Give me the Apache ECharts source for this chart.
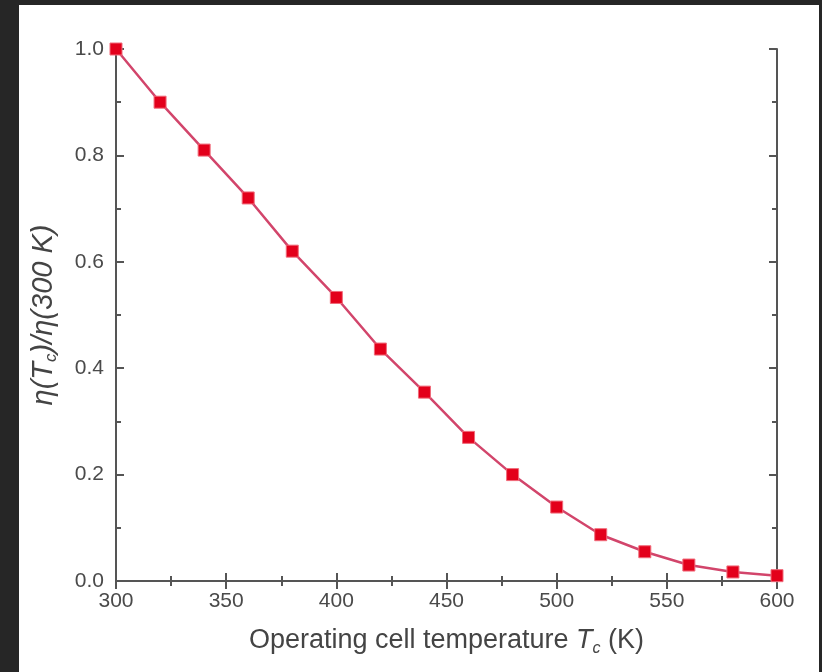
<!DOCTYPE html>
<html>
<head>
<meta charset="utf-8">
<script src="https://cdn.jsdelivr.net/npm/echarts@6/dist/echarts.min.js"></script>
<style>
  html, body { margin: 0; padding: 0; background: #262626; }
  #chart { position: absolute; left: 19px; top: 5px; width: 800px; height: 667px; background: #fff; }
</style>
</head>
<body>
<div id="chart"></div>
<script>
// operating cell temperature (K) and efficiency ratio eta(Tc)/eta(300 K)
var temps = [300, 320, 340, 360, 380, 400, 420, 440, 460, 480, 500, 520, 540, 560, 580, 600];
var ratio = [1.0, 0.90, 0.81, 0.72, 0.62, 0.533, 0.436, 0.355, 0.27, 0.20, 0.139, 0.087, 0.055, 0.030, 0.017, 0.010];

var axisColor = '#555';
var labelStyle = { fontSize: 21, color: '#4a4a4a', fontFamily: 'Liberation Sans' };

var points = [];
for (var i = 0; i < temps.length; i++) {
  points.push([temps[i], ratio[i]]);
}

var chart = echarts.init(document.getElementById('chart'));

function frameAxis(extra) {
  return Object.assign({
    axisLine: { show: true, lineStyle: { color: axisColor, width: 2 } },
    axisTick: { show: true, inside: true, length: 8, lineStyle: { color: axisColor, width: 2 } },
    minorTick: { show: true, splitNumber: 2, length: 5, lineStyle: { color: axisColor, width: 2 } },
    splitLine: { show: false }
  }, extra);
}

var option = {
  animation: false,
  grid: { left: 97, top: 44, width: 661, height: 532 },
  xAxis: [
    frameAxis({
      type: 'value', min: 300, max: 600, interval: 50,
      axisLabel: Object.assign({ margin: 10 }, labelStyle),
      name: '{n|Operating cell temperature }{i|T}{s|c}{n| (K)}',
      nameLocation: 'middle',
      nameGap: 43,
      nameTextStyle: {
        rich: {
          n: { fontSize: 27, color: '#444', fontFamily: 'Liberation Sans' },
          i: { fontSize: 27, color: '#444', fontFamily: 'Liberation Sans', fontStyle: 'italic' },
          s: { fontSize: 16, color: '#444', fontFamily: 'Liberation Sans', fontStyle: 'italic', padding: [17, 0, 0, 0] }
        }
      }
    }),
    frameAxis({
      type: 'value', min: 300, max: 600, interval: 50, position: 'top',
      axisLabel: { show: false }
    })
  ],
  yAxis: [
    frameAxis({
      type: 'value', min: 0, max: 1, interval: 0.2,
      axisLabel: Object.assign({ margin: 12, formatter: function (v) { return v.toFixed(1); } }, labelStyle),
      name: '{i|η(T}{s|c}{i|)/η(300 K)}',
      nameLocation: 'middle',
      nameRotate: 90,
      nameGap: 56,
      nameTextStyle: {
        rich: {
          i: { fontSize: 29, color: '#444', fontFamily: 'Liberation Sans', fontStyle: 'italic' },
          s: { fontSize: 17, color: '#444', fontFamily: 'Liberation Sans', fontStyle: 'italic', padding: [16, 0, 0, 0] }
        }
      }
    }),
    frameAxis({
      type: 'value', min: 0, max: 1, interval: 0.2, position: 'right',
      axisLabel: { show: false }
    })
  ],
  series: [
    {
      type: 'line',
      data: points,
      symbol: 'rect',
      symbolSize: 12,
      showAllSymbol: true,
      lineStyle: { color: '#d2456b', width: 2.5 },
      itemStyle: { color: '#e3001b', borderColor: '#f06a7a', borderWidth: 1 },
      z: 3
    }
  ]
};

chart.setOption(option);
</script>
</body>
</html>
